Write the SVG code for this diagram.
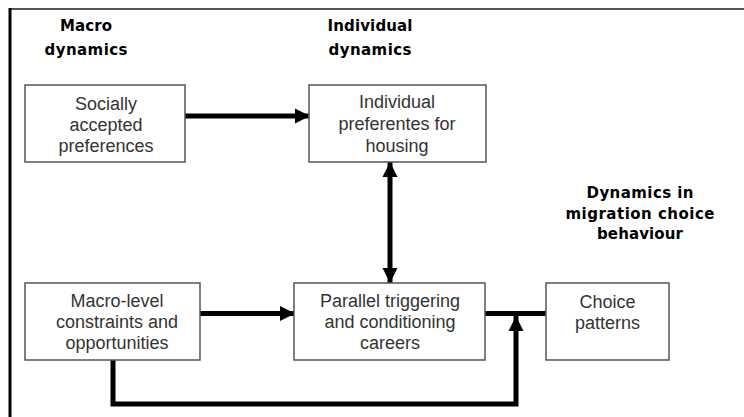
<svg xmlns="http://www.w3.org/2000/svg" width="744" height="417" viewBox="0 0 744 417">
<style>
.box{fill:#fff;stroke:#555;stroke-width:1.5}
.t{font-family:"Liberation Sans",Arial,sans-serif;font-size:18px;fill:#333;text-anchor:middle}
.h{font-family:"DejaVu Sans",Verdana,sans-serif;font-weight:bold;font-size:15px;fill:#000;text-anchor:middle}
.c{fill:none;stroke:#000;stroke-width:5}
</style>
<defs>
<marker id="ah" markerUnits="userSpaceOnUse" markerWidth="16" markerHeight="16" refX="15" refY="8" orient="auto-start-reverse">
<path d="M0,0.5 L15,8 L0,15.5 z" fill="#000"/>
</marker>
</defs>
<rect width="744" height="417" fill="#fff"/>
<g id="frame">
<line x1="10" y1="9" x2="744" y2="9" stroke="#555" stroke-width="2"/>
<line x1="10" y1="8" x2="10" y2="417" stroke="#000" stroke-width="3"/>
</g>
<g id="headers">
<text class="h" x="86" y="31" textLength="52">Macro</text>
<text class="h" x="86" y="55" textLength="83">dynamics</text>
<text class="h" x="370" y="31" textLength="85">Individual</text>
<text class="h" x="370" y="55" textLength="83">dynamics</text>
<text class="h" x="640" y="198" textLength="107">Dynamics in</text>
<text class="h" x="640" y="219" textLength="149">migration choice</text>
<text class="h" x="640" y="239" textLength="86">behaviour</text>
</g>
<g id="connectors">
<line class="c" x1="185" y1="116" x2="310" y2="116" marker-end="url(#ah)"/>
<line class="c" x1="390" y1="162" x2="390" y2="283" marker-start="url(#ah)" marker-end="url(#ah)"/>
<line class="c" x1="200" y1="313.5" x2="295" y2="313.5" marker-end="url(#ah)"/>
<line class="c" x1="485" y1="313.5" x2="546" y2="313.5"/>
<path class="c" d="M113,360 V404 H516 V316" marker-end="url(#ah)"/>
</g>
<g id="socially">
<rect class="box" x="25" y="85" width="160" height="77"/>
<text class="t" x="106" y="110">Socially</text>
<text class="t" x="106" y="131">accepted</text>
<text class="t" x="106" y="152">preferences</text>
</g>
<g id="individual">
<rect class="box" x="309" y="85" width="177" height="77"/>
<text class="t" x="397" y="108">Individual</text>
<text class="t" x="397" y="130">preferentes for</text>
<text class="t" x="397" y="152">housing</text>
</g>
<g id="macrolevel">
<rect class="box" x="25" y="283" width="175" height="77"/>
<text class="t" x="117" y="307">Macro-level</text>
<text class="t" x="117" y="328">constraints and</text>
<text class="t" x="117" y="349">opportunities</text>
</g>
<g id="parallel">
<rect class="box" x="294" y="283" width="191" height="77"/>
<text class="t" x="390" y="307">Parallel triggering</text>
<text class="t" x="390" y="328">and conditioning</text>
<text class="t" x="390" y="349">careers</text>
</g>
<g id="choice">
<rect class="box" x="546" y="283" width="123" height="77"/>
<text class="t" x="607.5" y="308">Choice</text>
<text class="t" x="607.5" y="329">patterns</text>
</g>
</svg>
